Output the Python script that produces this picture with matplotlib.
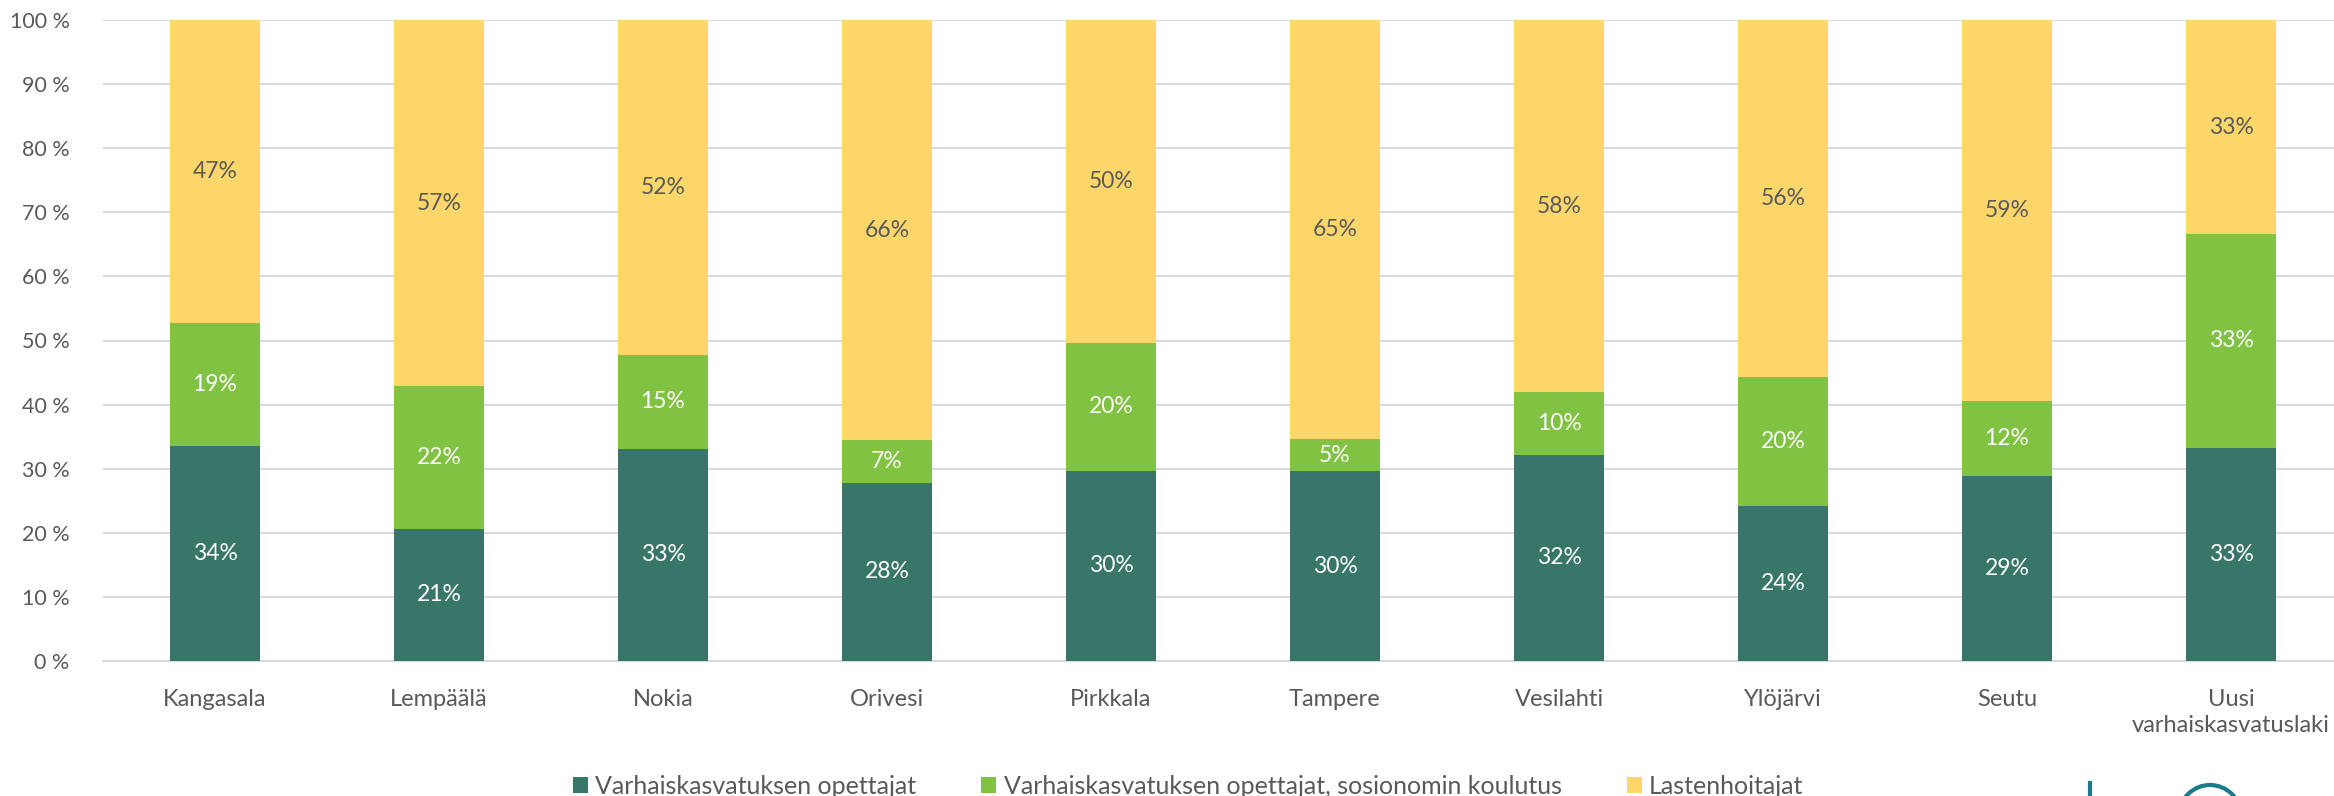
# importing packages
import matplotlib.pyplot as plt
from matplotlib.patches import Arc

plt.rcParams['font.family'] = ['Lato', 'DejaVu Sans']

# data
kunnat = ["Kangasala", "Lempäälä", "Nokia", "Orivesi", "Pirkkala", "Tampere",
          "Vesilahti", "Ylöjärvi", "Seutu", "Uusi\nvarhaiskasvatuslaki"]
opettajat = [33.6, 20.6, 33.1, 27.8, 29.7, 29.6, 32.2, 24.2, 28.9, 33.3]
sosionomit = [19.2, 22.3, 14.7, 6.6, 19.9, 5.0, 9.7, 20.1, 11.7, 33.3]
hoitajat = [47.2, 57.1, 52.2, 65.6, 50.4, 65.4, 58.1, 55.7, 59.4, 33.4]
sarjat = ["Varhaiskasvatuksen opettajat",
          "Varhaiskasvatuksen opettajat, sosionomin koulutus",
          "Lastenhoitajat"]

colors = ["#377669", "#80C241", "#FED66A"]
label_colors = ["white", "white", "#595959"]
text_gray = "#595959"
grid_gray = "#D9D9D9"

fig = plt.figure(figsize=(23.34, 7.96), dpi=100)
ax = fig.add_axes([103 / 2334, 1 - 661 / 796, 2240 / 2334, 641 / 796])

x = list(range(len(kunnat)))
bottom = [0] * len(kunnat)
for values, name, c, lc in zip([opettajat, sosionomit, hoitajat], sarjat, colors, label_colors):
    bars = ax.bar(x, values, width=0.4, bottom=bottom, color=c, label=name, zorder=3)
    ax.bar_label(bars, labels=[f"{v:.0f}%" for v in values], label_type="center",
                 color=lc, fontsize=16.5)
    bottom = [b + v for b, v in zip(bottom, values)]

# axes styling
ax.set_xlim(-0.5, len(kunnat) - 0.5)
ax.set_ylim(0, 100)
ax.set_yticks(range(0, 101, 10))
ax.set_yticklabels([f"{t} %" for t in range(0, 101, 10)])
ax.set_xticks(x)
ax.set_xticklabels(kunnat, linespacing=1.3)
ax.tick_params(axis="y", length=0, pad=24, labelsize=15.5, labelcolor=text_gray)
ax.tick_params(axis="x", length=0, pad=20, labelsize=17, labelcolor=text_gray)
ax.grid(axis="y", color=grid_gray, linewidth=1.5, zorder=0)
for s in ["top", "right", "left"]:
    ax.spines[s].set_visible(False)
ax.spines["bottom"].set_color(grid_gray)
ax.spines["bottom"].set_linewidth(1.5)

# legend
fig.legend(loc="center", bbox_to_anchor=(1188 / 2334, 1 - 786 / 796), ncol=3,
           frameon=False, fontsize=18, labelcolor=text_gray, handlelength=0.6,
           handleheight=0.6, handletextpad=0.3, columnspacing=2.6)

# piece of the logo at the bottom right corner
logo = "#1B7A8C"
fig.add_artist(plt.Line2D([2090 / 2334, 2090 / 2334], [0, 13 / 796], color=logo,
                          linewidth=3, transform=fig.transFigure))
fig.add_artist(Arc((2210 / 2334, -20 / 796), 62 / 2334, 62 / 796, theta1=0, theta2=180,
                   color=logo, linewidth=3, transform=fig.transFigure))

fig.savefig("out.png", dpi=100)
